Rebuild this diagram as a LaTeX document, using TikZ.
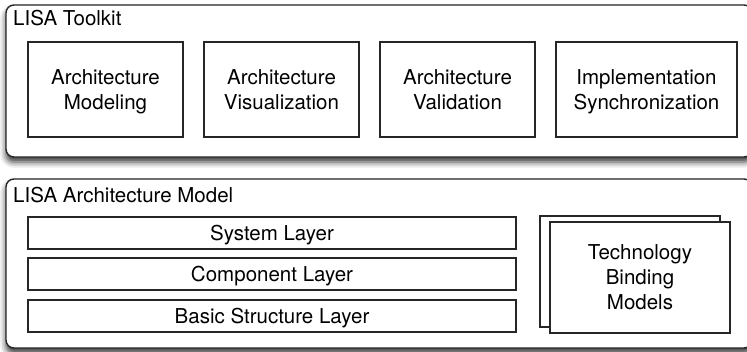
\documentclass[tikz,border=0pt]{standalone}
\usepackage{fontspec}
\setmainfont{TeX Gyre Heros}
\usetikzlibrary{shadows.blur}

\begin{document}
\begin{tikzpicture}[x=1pt,y=-1pt,
  font=\fontsize{20.5}{25}\selectfont,
  groupbox/.style={draw=black!85, line width=1.4pt, rounded corners=8pt, fill=white,
    blur shadow={shadow xshift=0pt, shadow yshift=-5pt, shadow blur radius=6pt, shadow opacity=80}},
  toolbox/.style={draw=black!85, line width=1.1pt, fill=white, align=center, inner sep=0pt, text depth=0pt},
  layerbox/.style={draw=black!85, line width=1.1pt, fill=white, inner sep=0pt, text depth=0pt,
    minimum width=488pt, minimum height=32pt}]
\useasboundingbox (0,0) rectangle (747,351);
\clip (0,0) rectangle (747,351);

% LISA Toolkit
\node[groupbox, minimum width=746pt, minimum height=152pt] (toolkit) at (379,81) {};
\node[anchor=base west, inner sep=0pt] (toolkittitle) at (13,25) {LISA Toolkit};
\node[toolbox, minimum width=155pt, minimum height=95pt] (modeling) at (105.5,89.5) {Architecture\\Modeling};
\node[toolbox, minimum width=155pt, minimum height=95pt] (visual) at (281.5,89.5) {Architecture\\Visualization};
\node[toolbox, minimum width=155pt, minimum height=95pt] (valid) at (457.5,89.5) {Architecture\\Validation};
\node[toolbox, minimum width=181pt, minimum height=95pt] (sync) at (646.5,89.5) {Implementation\\Synchronization};

% LISA Architecture Model
\node[groupbox, minimum width=746pt, minimum height=169pt] (model) at (379,263.5) {};
\node[anchor=base west, inner sep=0pt] (modeltitle) at (13,202) {LISA Architecture Model};
\node[layerbox] (system) at (272,233) {System Layer};
\node[layerbox] (component) at (272,274) {Component Layer};
\node[layerbox] (basic) at (272,316) {Basic Structure Layer};

% stacked binding models
\node[toolbox, minimum width=180pt, minimum height=111pt] (bindingback) at (630,271.5) {};
\node[toolbox, minimum width=180pt, minimum height=111pt] (binding) at (640,277.5) {Technology\\Binding\\Models};
\end{tikzpicture}
\end{document}
